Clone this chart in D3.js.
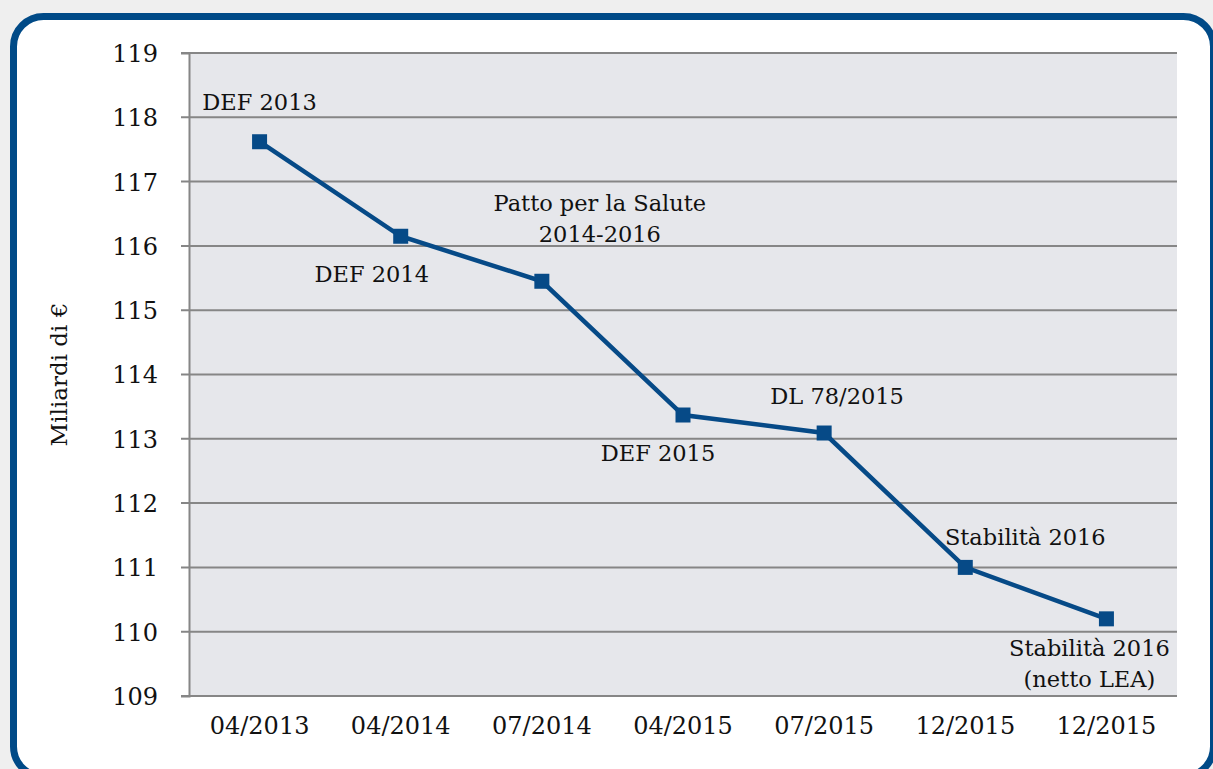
<!DOCTYPE html>
<html>
<head>
<meta charset="utf-8">
<script src="https://cdn.jsdelivr.net/npm/d3@7"></script>
<style>
  body { margin: 0; background: #efefef; }
  svg text { font-family: "DejaVu Serif", serif; fill: #111; }
</style>
</head>
<body>
<div id="chart"></div>
<script>
// data
const dates = ['04/2013', '04/2014', '07/2014', '04/2015', '07/2015', '12/2015', '12/2015 '];
const values = [117.62, 116.15, 115.45, 113.37, 113.09, 111.0, 110.2];
const labels = [
  ['DEF 2013'],
  ['DEF 2014'],
  ['Patto per la Salute', '2014-2016'],
  ['DEF 2015'],
  ['DL 78/2015'],
  ['Stabilità 2016'],
  ['Stabilità 2016', '(netto LEA)']
];
const yTicks = [109, 110, 111, 112, 113, 114, 115, 116, 117, 118, 119];

// where each label sits relative to its point (dx, dy of first baseline)
const labelOffsets = [[0, -32], [-29, 46], [58, -70], [-25, 46], [13, -29], [60, -22], [-17, 37]];

const width = 1213, height = 769;
const margins = {top: 53, right: 36, bottom: 73, left: 189};

const svg = d3.select('#chart')
  .append('svg')
  .attr('width', width)
  .attr('height', height);

// frame
svg.append('rect')
  .attr('x', 13.5).attr('y', 16.5)
  .attr('width', 1200).attr('height', 760)
  .attr('rx', 30).attr('ry', 30)
  .attr('fill', '#fff')
  .attr('stroke', '#004a87')
  .attr('stroke-width', 7);

const x = d3.scaleBand()
  .domain(dates)
  .range([margins.left, width - margins.right]);

const y = d3.scaleLinear()
  .domain([109, 119])
  .range([height - margins.bottom, margins.top]);

// plot area
svg.append('rect')
  .attr('x', margins.left)
  .attr('y', margins.top)
  .attr('width', width - margins.left - margins.right)
  .attr('height', height - margins.top - margins.bottom)
  .attr('fill', '#e6e7eb');

// grid
svg.append('g')
  .selectAll('line')
  .data(yTicks)
  .enter()
  .append('line')
  .attr('x1', margins.left - 8)
  .attr('x2', width - margins.right)
  .attr('y1', d => y(d))
  .attr('y2', d => y(d))
  .attr('stroke', '#868686')
  .attr('stroke-width', 2);

// y axis
const yAxis = svg.append('g')
  .attr('transform', `translate(${margins.left}, 0)`)
  .call(d3.axisLeft(y).tickValues(yTicks).tickSize(8).tickPadding(23).tickFormat(d3.format('d')));
yAxis.select('.domain').attr('stroke', '#868686').attr('stroke-width', 2);
yAxis.selectAll('.tick line').remove();
yAxis.selectAll('text').attr('font-size', 24).attr('font-family', '"DejaVu Serif", serif').attr('dy', '0.35em');

// x axis
const xAxis = svg.append('g')
  .attr('transform', `translate(0, ${height - margins.bottom})`)
  .call(d3.axisBottom(x).tickSize(0).tickPadding(21));
xAxis.select('.domain').remove();
xAxis.selectAll('text').attr('font-size', 24).attr('font-family', '"DejaVu Serif", serif');

svg.append('text')
  .attr('transform', `translate(67, ${y(114)}) rotate(-90)`)
  .attr('text-anchor', 'middle')
  .attr('font-size', 23)
  .text('Miliardi di €');

// series
const cx = (d, i) => x(dates[i]) + x.bandwidth() / 2;

svg.append('path')
  .datum(values)
  .attr('fill', 'none')
  .attr('stroke', '#064a87')
  .attr('stroke-width', 4.5)
  .attr('d', d3.line().x(cx).y(d => y(d)));

svg.append('g')
  .selectAll('rect')
  .data(values)
  .enter()
  .append('rect')
  .attr('x', (d, i) => cx(d, i) - 7.5)
  .attr('y', d => y(d) - 7.5)
  .attr('width', 15)
  .attr('height', 15)
  .attr('fill', '#064a87');

// annotations
const ann = svg.append('g')
  .selectAll('text')
  .data(labels)
  .enter()
  .append('text')
  .attr('text-anchor', 'middle')
  .attr('font-size', 22.5)
  .attr('x', (d, i) => cx(values[i], i) + labelOffsets[i][0])
  .attr('y', (d, i) => y(values[i]) + labelOffsets[i][1]);

ann.selectAll('tspan')
  .data((d, i) => d.map(t => ({t, i})))
  .enter()
  .append('tspan')
  .attr('x', d => cx(values[d.i], d.i) + labelOffsets[d.i][0])
  .attr('dy', (d, j) => j === 0 ? 0 : 31)
  .text(d => d.t);
</script>
</body>
</html>
